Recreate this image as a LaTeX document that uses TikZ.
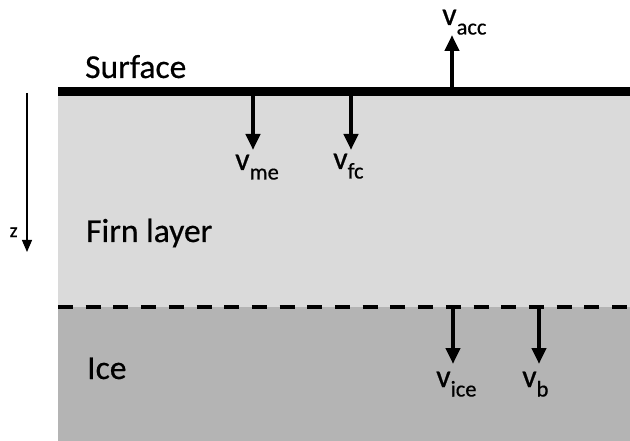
\documentclass[tikz,border=0pt]{standalone}
\usepackage{fontspec}
\setmainfont{Carlito}[FakeBold=0.5]
\usetikzlibrary{arrows.meta}
\definecolor{firngray}{HTML}{DADADA}
\definecolor{icegray}{HTML}{B4B4B4}
\newcommand{\vsub}[1]{{\fontsize{32}{32}\selectfont v}\raisebox{-9.5pt}{\fontsize{22.5}{23}\selectfont #1}}
\tikzset{
  lbl/.style={inner sep=0pt, anchor=base west, font=\fontsize{33.5}{34}\selectfont},
  vlbl/.style={inner sep=0pt, anchor=base west},
  flow/.style={line width=4pt, -{Triangle[length=16pt,width=14pt]}},
}
\begin{document}
\begin{tikzpicture}[x=1pt,y=-1pt]
\useasboundingbox (0,0) rectangle (630,441);
% layers
\fill[firngray] (58,91.5) rectangle (630,307);
\fill[icegray] (58,307) rectangle (630,441);
\draw[line width=9pt] (58,91.5) -- (630,91.5);
\draw[line width=4pt, dash pattern=on 15pt off 12.7pt] (58,307) -- (630,307);
% texts
\node[lbl] (surf) at (85,78) {Surface};
\node[lbl] (firn) at (86,242) {Firn layer};
\node[lbl] (ice) at (87,379) {Ice};
% depth axis
\coordinate (z0) at (27,93);
\coordinate (z1) at (27,252);
\draw[line width=1.2pt, -{Triangle[length=12pt,width=10pt]}] (z0) -- (z1);
\node[inner sep=0pt, anchor=base west, font=\fontsize{20}{20}\selectfont] (zl) at (9.5,237) {z};
% velocity arrows
\coordinate (acc0) at (452,88);   \coordinate (acc1) at (452,35);
\coordinate (me0) at (253,92);    \coordinate (me1) at (253,150);
\coordinate (fc0) at (351,92);    \coordinate (fc1) at (351,150);
\coordinate (ice0) at (453,307);  \coordinate (ice1) at (453,364);
\coordinate (b0) at (539,307);    \coordinate (b1) at (539,364);
\draw[flow] (acc0) -- (acc1);
\draw[flow] (me0) -- (me1);
\draw[flow] (fc0) -- (fc1);
\draw[flow] (ice0) -- (ice1);
\draw[flow] (b0) -- (b1);
\node[vlbl] (vacc) at (442,25) {\vsub{acc}};
\node[vlbl] (vme) at (235,170) {\vsub{me}};
\node[vlbl] (vfc) at (333,169) {\vsub{fc}};
\node[vlbl] (vice) at (436,387) {\vsub{ice}};
\node[vlbl] (vb) at (522,387) {\vsub{b}};
\end{tikzpicture}
\end{document}
